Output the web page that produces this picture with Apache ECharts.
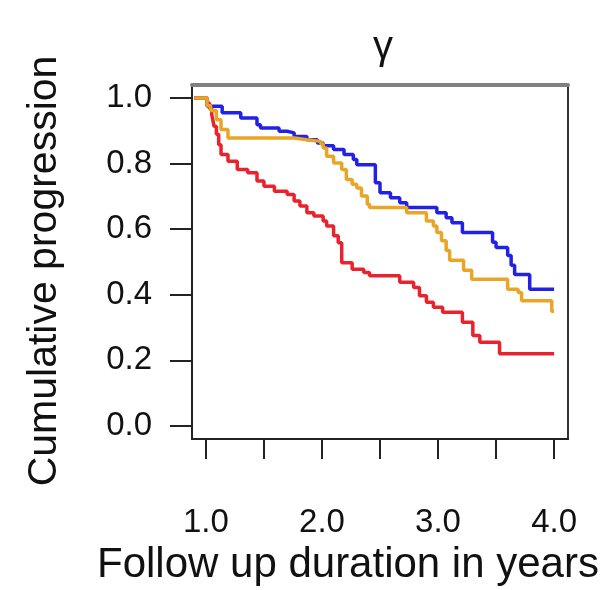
<!DOCTYPE html>
<html>
<head>
<meta charset="utf-8">
<script src="https://cdn.jsdelivr.net/npm/echarts@6/dist/echarts.min.js"></script>
<style>
  html, body { margin: 0; padding: 0; background: #fff; }
  #chart { width: 606px; height: 590px; }
</style>
</head>
<body>
<div id="chart"></div>
<script>
// values
const xTicks = [1.0, 1.5, 2.0, 2.5, 3.0, 3.5, 4.0];
const xLabels = [1.0, 2.0, 3.0, 4.0];
const yLabels = [0.0, 0.2, 0.4, 0.6, 0.8, 1.0];

const blueTimes = [0.9, 1.01, 1.14, 1.30, 1.44, 1.47, 1.63, 1.70, 1.76, 1.87, 1.96, 2.01, 2.10, 2.19, 2.27, 2.30, 2.46, 2.50, 2.59, 2.67, 2.73, 2.99, 3.07, 3.12, 3.21, 3.47, 3.50, 3.60, 3.63, 3.66, 3.79, 4.0];
const blueSurv = [1.0, 0.975, 0.955, 0.939, 0.919, 0.909, 0.899, 0.894, 0.883, 0.873, 0.863, 0.855, 0.843, 0.828, 0.813, 0.797, 0.742, 0.711, 0.696, 0.681, 0.666, 0.650, 0.635, 0.620, 0.590, 0.560, 0.544, 0.520, 0.490, 0.462, 0.417, 0.417];

const orangeTimes = [0.9, 1.01, 1.04, 1.09, 1.13, 1.19, 1.76, 1.87, 1.99, 2.01, 2.04, 2.10, 2.17, 2.21, 2.26, 2.30, 2.34, 2.39, 2.41, 2.73, 2.90, 2.96, 2.99, 3.03, 3.07, 3.10, 3.22, 3.29, 3.60, 3.69, 3.72, 3.98, 4.0];
const orangeSurv = [1.0, 0.977, 0.962, 0.934, 0.904, 0.878, 0.873, 0.868, 0.861, 0.848, 0.823, 0.802, 0.782, 0.752, 0.737, 0.726, 0.701, 0.676, 0.666, 0.650, 0.625, 0.610, 0.590, 0.565, 0.535, 0.505, 0.475, 0.447, 0.417, 0.407, 0.382, 0.350, 0.350];

const redTimes = [0.9, 1.01, 1.03, 1.05, 1.06, 1.07, 1.09, 1.11, 1.13, 1.19, 1.27, 1.36, 1.44, 1.50, 1.59, 1.70, 1.76, 1.81, 1.87, 1.93, 2.01, 2.04, 2.10, 2.14, 2.17, 2.26, 2.36, 2.41, 2.67, 2.79, 2.84, 2.90, 2.96, 3.04, 3.21, 3.30, 3.36, 3.53, 4.0];
const redSurv = [1.0, 0.985, 0.968, 0.950, 0.932, 0.914, 0.890, 0.858, 0.828, 0.807, 0.782, 0.772, 0.747, 0.731, 0.716, 0.706, 0.686, 0.671, 0.650, 0.640, 0.625, 0.610, 0.580, 0.559, 0.498, 0.478, 0.468, 0.458, 0.438, 0.422, 0.397, 0.377, 0.362, 0.347, 0.316, 0.276, 0.255, 0.220, 0.220];

const FONT = "'Liberation Sans', Arial, sans-serif";
const TXT = '#111';

function pairs(t, s) {
  return t.map((v, i) => [v, s[i]]);
}

function stepLine(name, t, s, color) {
  return {
    name: name,
    type: 'line',
    step: 'end',
    data: pairs(t, s),
    showSymbol: false,
    silent: true,
    lineStyle: { color: color, width: 3.5 },
    z: 3
  };
}

const chart = echarts.init(document.getElementById('chart'));

chart.setOption({
  animation: false,
  backgroundColor: '#fff',
  grid: { left: 192, top: 85, right: 38, bottom: 151, show: true, borderColor: '#333', borderWidth: 2 },
  xAxis: [{
    type: 'value',
    min: 0.88, max: 4.12,
    splitLine: { show: false },
    axisLine: { show: true, onZero: false, lineStyle: { color: '#222', width: 2 } },
    axisTick: { show: true, customValues: xTicks, length: 20, lineStyle: { color: '#222', width: 2 } },
    axisLabel: {
      customValues: xLabels,
      margin: 67,
      fontSize: 33, fontFamily: FONT, color: TXT,
      formatter: v => v.toFixed(1)
    }
  }, {
    type: 'value', position: 'top',
    min: 0.88, max: 4.12,
    splitLine: { show: false },
    axisLine: { show: true, onZero: false, lineStyle: { color: '#808080', width: 4 } },
    axisTick: { show: false }, axisLabel: { show: false }
  }],
  yAxis: [{
    type: 'value',
    min: -0.04, max: 1.04,
    splitLine: { show: false },
    axisLine: { show: true, onZero: false, lineStyle: { color: '#222', width: 2 } },
    axisTick: { show: true, customValues: yLabels, length: 22, lineStyle: { color: '#222', width: 2 } },
    axisLabel: {
      customValues: yLabels,
      margin: 40,
      fontSize: 33, fontFamily: FONT, color: TXT,
      formatter: v => v.toFixed(1)
    }
  }],
  graphic: [
    {
      type: 'text', x: 383, y: 48,
      style: { text: 'γ', font: '40px ' + FONT, fill: TXT, textAlign: 'center', textVerticalAlign: 'middle' }
    },
    {
      type: 'text', x: 45, y: 271, rotation: Math.PI / 2,
      style: { text: 'Cumulative progression', font: '41px ' + FONT, fill: TXT, textAlign: 'center', textVerticalAlign: 'middle' }
    },
    {
      type: 'text', x: 97, y: 565,
      style: { text: 'Follow up duration in years', font: '42px ' + FONT, fill: TXT, textAlign: 'left', textVerticalAlign: 'middle' }
    }
  ],
  series: [
    stepLine('blue', blueTimes, blueSurv, '#2222e4'),
    stepLine('red', redTimes, redSurv, '#e8232e'),
    stepLine('orange', orangeTimes, orangeSurv, '#e9a626')
  ]
});
</script>
</body>
</html>
